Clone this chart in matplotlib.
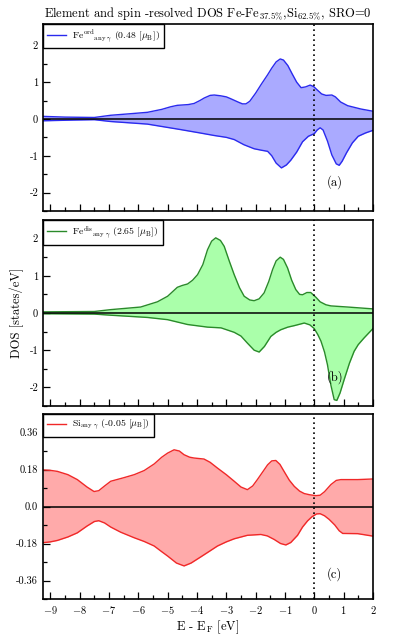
import matplotlib
matplotlib.use("Agg")
import matplotlib.pyplot as plt
from matplotlib.ticker import MultipleLocator, FormatStrFormatter

plt.rcParams['font.family'] = 'serif'
plt.rcParams['font.serif'] = ['cmr10', 'DejaVu Serif']
plt.rcParams['mathtext.fontset'] = 'cm'
plt.rcParams['axes.unicode_minus'] = False
plt.rcParams['axes.formatter.use_mathtext'] = True

# (a) Fe ordered
ea_up = [-9.25, -8.5, -7.5, -6.94, -6.3, -5.69, -5.2, -4.9, -4.67, -4.3, -4.1, -3.9, -3.75,
         -3.55, -3.41, -3.2, -3.0, -2.85, -2.6, -2.45, -2.33, -2.2, -2.0, -1.8, -1.59, -1.45,
         -1.3, -1.16, -1.05, -0.9, -0.75, -0.6, -0.45, -0.3, -0.14, -0.02, 0.1, 0.25, 0.4,
         0.6, 0.72, 0.9, 1.14, 1.59, 2.0]
dos_a_up = [0.07, 0.05, 0.04, 0.1, 0.14, 0.18, 0.26, 0.33, 0.37, 0.39, 0.42, 0.5, 0.57,
            0.64, 0.65, 0.63, 0.6, 0.55, 0.46, 0.41, 0.41, 0.48, 0.7, 0.95, 1.2, 1.38,
            1.55, 1.63, 1.6, 1.45, 1.22, 1.0, 0.85, 0.87, 0.92, 0.88, 0.79, 0.68, 0.64,
            0.65, 0.6, 0.46, 0.36, 0.27, 0.21]
ea_dn = [-9.25, -8.2, -7.5, -6.94, -5.69, -4.55, -3.9, -3.41, -3.0, -2.73, -2.4, -2.05, -1.8,
         -1.59, -1.45, -1.3, -1.12, -0.95, -0.8, -0.6, -0.4, -0.2, 0.0, 0.1, 0.2, 0.3, 0.45,
         0.6, 0.75, 0.85, 0.95, 1.1, 1.3, 1.5, 1.75, 2.0]
dos_a_dn = [-0.05, -0.03, -0.02, -0.07, -0.14, -0.29, -0.38, -0.45, -0.5, -0.56, -0.7, -0.81,
            -0.85, -0.88, -1.0, -1.2, -1.33, -1.25, -1.12, -0.9, -0.62, -0.47, -0.4, -0.3,
            -0.24, -0.3, -0.6, -0.98, -1.22, -1.26, -1.15, -0.92, -0.65, -0.47, -0.38, -0.31]

# (b) Fe disordered
eb_up = [-9.25, -7.5, -6.94, -5.92, -5.35, -5.0, -4.67, -4.5, -4.32, -4.15, -3.98, -3.8,
         -3.64, -3.5, -3.36, -3.2, -3.07, -2.9, -2.73, -2.55, -2.39, -2.2, -2.05, -1.88,
         -1.71, -1.55, -1.42, -1.3, -1.16, -1.05, -0.91, -0.77, -0.63, -0.5, -0.4, -0.25,
         -0.12, 0.06, 0.2, 0.4, 0.57, 1.14, 2.0]
dos_b_up = [0.03, 0.04, 0.09, 0.16, 0.3, 0.45, 0.69, 0.74, 0.78, 0.88, 1.03, 1.3,
            1.7, 1.93, 2.02, 1.95, 1.79, 1.4, 1.03, 0.68, 0.45, 0.35, 0.33, 0.38,
            0.54, 0.85, 1.17, 1.4, 1.5, 1.44, 1.21, 0.88, 0.63, 0.5, 0.49, 0.55,
            0.55, 0.42, 0.3, 0.22, 0.19, 0.16, 0.11]
eb_dn = [-9.25, -7.5, -6.94, -5.69, -5.0, -4.32, -3.64, -3.18, -2.73, -2.5, -2.28, -2.05,
         -1.88, -1.7, -1.48, -1.3, -1.14, -0.9, -0.68, -0.34, -0.15, 0.0, 0.12, 0.23, 0.35,
         0.45, 0.57, 0.68, 0.77, 0.88, 1.02, 1.2, 1.36, 1.5, 1.7, 2.0]
dos_b_dn = [-0.02, -0.03, -0.06, -0.12, -0.18, -0.31, -0.38, -0.4, -0.52, -0.62, -0.81, -1.0,
            -1.05, -0.9, -0.63, -0.52, -0.45, -0.38, -0.34, -0.27, -0.32, -0.42, -0.58, -0.76,
            -1.05, -1.39, -1.95, -2.33, -2.35, -2.15, -1.79, -1.35, -1.03, -0.85, -0.67, -0.42]

# (c) Si
ec_up = [-9.25, -9.0, -8.76, -8.4, -8.08, -7.75, -7.51, -7.35, -7.15, -6.94, -6.5, -6.14,
         -5.8, -5.46, -5.2, -5.0, -4.78, -4.6, -4.44, -4.25, -4.1, -3.76, -3.55, -3.3, -3.0,
         -2.73, -2.5, -2.28, -2.1, -1.94, -1.75, -1.59, -1.45, -1.31, -1.17, -1.03, -0.85,
         -0.68, -0.5, -0.34, -0.15, 0.06, 0.2, 0.35, 0.57, 0.75, 0.91, 1.48, 2.0]
dos_c_up = [0.178, 0.176, 0.171, 0.155, 0.131, 0.095, 0.073, 0.077, 0.1, 0.123, 0.14, 0.155,
            0.175, 0.207, 0.24, 0.26, 0.276, 0.27, 0.252, 0.24, 0.236, 0.231, 0.215, 0.187, 0.155,
            0.123, 0.095, 0.082, 0.1, 0.131, 0.17, 0.203, 0.222, 0.224, 0.205, 0.171, 0.128,
            0.098, 0.075, 0.063, 0.057, 0.053, 0.055, 0.072, 0.107, 0.127, 0.131, 0.131, 0.134]
ec_dn = [-9.25, -9.0, -8.76, -8.4, -8.08, -7.75, -7.5, -7.35, -7.15, -6.94, -6.6, -6.14,
         -5.8, -5.46, -5.2, -5.0, -4.7, -4.44, -4.2, -3.87, -3.6, -3.3, -3.0, -2.73, -2.28,
         -1.82, -1.6, -1.37, -1.15, -0.97, -0.8, -0.57, -0.4, -0.23, -0.08, 0.08, 0.2, 0.35,
         0.51, 0.7, 0.85, 0.97, 1.48, 2.0]
dos_c_dn = [-0.176, -0.172, -0.165, -0.148, -0.128, -0.095, -0.073, -0.069, -0.08, -0.1,
            -0.125, -0.152, -0.17, -0.192, -0.22, -0.241, -0.275, -0.289, -0.275, -0.245,
            -0.22, -0.192, -0.172, -0.157, -0.140, -0.136, -0.143, -0.160, -0.18, -0.187,
            -0.175, -0.14, -0.1, -0.07, -0.05, -0.036, -0.035, -0.045, -0.063, -0.09, -0.118,
            -0.131, -0.132, -0.144]

labels = [r'$\mathrm{Fe}^{\mathrm{ord}}{}_{\mathrm{any}\ \gamma}$ (0.48 [$\mu_\mathrm{B}$])',
          r'$\mathrm{Fe}^{\mathrm{dis}}{}_{\mathrm{any}\ \gamma}$ (2.65 [$\mu_\mathrm{B}$])',
          r'$\mathrm{Si}_{\mathrm{any}\ \gamma}$ (-0.05 [$\mu_\mathrm{B}$])']
tags = ['(a)', '(b)', '(c)']

fig = plt.figure(figsize=(4.16, 6.43), dpi=100)
ax_a = fig.add_axes([0.1034, 0.6719, 0.793, 0.2908])
ax_b = fig.add_axes([0.1034, 0.3686, 0.793, 0.2893])
ax_c = fig.add_axes([0.1034, 0.0684, 0.793, 0.2877])

panels = [
    (ax_a, ea_up, dos_a_up, ea_dn, dos_a_dn, '#2a2aee', '#aaaaff', (-2.5, 2.58), 1, 0.5, '%d', -1.72),
    (ax_b, eb_up, dos_b_up, eb_dn, dos_b_dn, '#2a8a2a', '#aaffaa', (-2.5, 2.5), 1, 0.5, '%d', -1.72),
    (ax_c, ec_up, dos_c_up, ec_dn, dos_c_dn, '#f02828', '#ffaaaa', (-0.45, 0.45), 0.18, 0.09, None, -0.33),
]

for i, (ax, xu, yu, xd, yd, lc, fc, ylim, maj, mnr, fmt, ty) in enumerate(panels):
    ax.fill_between(xu, 0, yu, color=fc, lw=0)
    ax.fill_between(xd, 0, yd, color=fc, lw=0)
    ax.plot(xu, yu, color=lc, lw=1.0, label=labels[i])
    ax.plot(xd, yd, color=lc, lw=1.0)
    ax.axhline(0, color='black', lw=1.1)
    ax.axvline(0, color='black', lw=1.2, ls=(0, (1, 2)))
    ax.set_xlim(-9.25, 2)
    ax.set_ylim(*ylim)
    ax.xaxis.set_major_locator(MultipleLocator(1))
    ax.xaxis.set_minor_locator(MultipleLocator(0.5))
    ax.yaxis.set_major_locator(MultipleLocator(maj))
    ax.yaxis.set_minor_locator(MultipleLocator(mnr))
    if fmt:
        ax.yaxis.set_major_formatter(FormatStrFormatter(fmt))
    else:
        ax.set_yticks([-0.36, -0.18, 0.0, 0.18, 0.36])
        ax.set_yticklabels(['-0.36', '-0.18', '0.0', '0.18', '0.36'])
    ax.tick_params(which='both', direction='in', top=False, right=False, labelsize=7.5, width=0.9)
    ax.tick_params(which='major', length=5)
    ax.tick_params(which='minor', length=3)
    for s in ax.spines.values():
        s.set_linewidth(1.2)
    if i < 2:
        ax.tick_params(axis='x', labelbottom=False)
    ax.text(0.7, ty, tags[i], fontsize=9, ha='center', va='center')
    leg = ax.legend(loc='upper left', fontsize=7, fancybox=False, framealpha=1,
                    borderaxespad=0, handlelength=1.9, handletextpad=0.6, borderpad=0.45)
    leg.get_frame().set_edgecolor('black')
    leg.get_frame().set_linewidth(1.0)

ax_a.set_title(r'Element and spin -resolved DOS Fe-Fe$_{37.5\%}$,Si$_{62.5\%}$, SRO=0',
               fontsize=9, pad=5)
ax_b.set_ylabel('DOS [states/eV]', fontsize=9)
ax_c.set_xlabel(r'E - E$_\mathrm{F}$ [eV]', fontsize=9, labelpad=2)

fig.savefig('out.png', dpi=100)
